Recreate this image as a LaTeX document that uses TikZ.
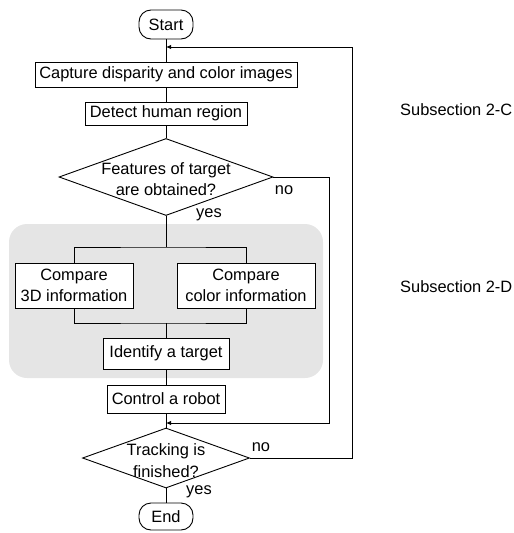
\documentclass[tikz,border=0pt]{standalone}
\usepackage{fontspec}
\setmainfont{Liberation Sans}
\usetikzlibrary{shapes.geometric,arrows.meta}
\definecolor{bg}{RGB}{229,229,229}
\begin{document}
\begin{tikzpicture}[x=1pt,y=-1pt,
  every node/.style={font=\fontsize{16.4}{21}\selectfont},
  procbox/.style={draw,line width=0.9pt,fill=white,inner sep=0pt,align=center},
  termbox/.style={procbox,rounded corners=12pt},
  decbox/.style={draw,line width=0.9pt,diamond,inner sep=0pt,fill=white},
  conn/.style={line width=0.9pt},
  arr/.style={conn,-{Latex[length=5pt,width=4.5pt]}},
  lbl/.style={inner sep=0pt}]
\useasboundingbox (0,0) rectangle (514,533);
\fill[bg, rounded corners=18pt] (9,224) rectangle (323,378);

\node[termbox,minimum width=54pt,minimum height=29pt] (start) at (166,24.5) {Start};
\node[procbox,minimum width=262pt,minimum height=25pt] (cap) at (166,74.5) {Capture disparity and color images};
\node[procbox,minimum width=162pt,minimum height=23pt] (det) at (166,113.5) {Detect human region};
\node[decbox,minimum width=214pt,minimum height=77pt] (d1) at (166,177) {};
\node[lbl,align=center] (d1t) at (166,179.5) {Features of target\\are obtained?};
\node[procbox,minimum width=118pt,minimum height=45pt] (c3d) at (74,285.5) {Compare\\3D information};
\node[procbox,minimum width=138pt,minimum height=45pt] (ccol) at (246,285.5) {Compare\\color information};
\node[procbox,minimum width=126pt,minimum height=31pt] (ident) at (166,353.5) {Identify a target};
\node[procbox,minimum width=118pt,minimum height=28pt] (ctrl) at (166,399) {Control a robot};
\node[decbox,minimum width=167pt,minimum height=60pt] (d2) at (166,458) {};
\node[lbl,align=center,font=\fontsize{16.4}{22}\selectfont] (d2t) at (166,461) {Tracking is\\finished?};
\node[termbox,minimum width=54pt,minimum height=27pt] (end) at (166,516.5) {End};

\node[lbl] (no1) at (284,190) {no};
\node[lbl] (yes1) at (209,215) {yes};
\node[lbl] (no2) at (261,447) {no};
\node[lbl] (yes2) at (199,492) {yes};
\node[lbl,anchor=west] (s2c) at (400,110) {Subsection 2-C};
\node[lbl,anchor=west] (s2d) at (400,287) {Subsection 2-D};

\coordinate (j1) at (166,47);
\coordinate (j2) at (166,423);
\coordinate (loopR) at (352,47);
\coordinate (noR) at (329,423);
\coordinate (sp) at (166,247);
\coordinate (mg) at (166,323);

\draw[conn] (start) -- (cap);
\draw[conn] (cap) -- (det);
\draw[conn] (det) -- (d1.north);
\draw[conn] (d1.south) -- (sp);
\draw[conn] (c3d.north) |- (sp) -| (ccol.north);
\draw[conn] (c3d.south) |- (mg) -| (ccol.south);
\draw[conn] (mg) -- (ident);
\draw[conn] (ident) -- (ctrl);
\draw[conn] (ctrl) -- (d2.north);
\draw[conn] (d2.south) -- (end);
\draw[arr] (d1.east) -| (noR) -- (j2);
\draw[arr] (d2.east) -| (loopR) -- (j1);
\end{tikzpicture}
\end{document}
